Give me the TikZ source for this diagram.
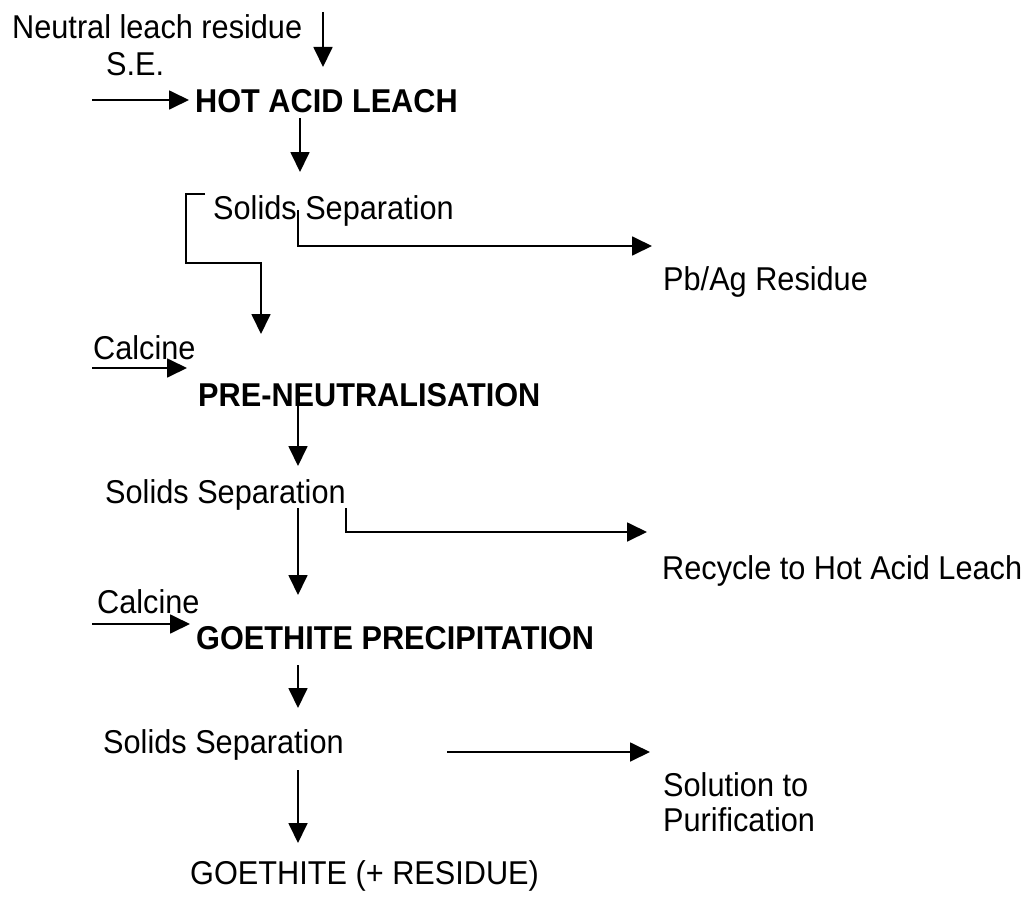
\documentclass[tikz,border=0pt]{standalone}
\usepackage{fontspec}
\setmainfont{Liberation Sans}[FakeStretch=0.93]
\usetikzlibrary{arrows.meta}
\begin{document}
\begin{tikzpicture}[x=1pt,y=-1pt,
  lbl/.style={anchor=base west,inner sep=0pt,font=\fontsize{33}{36}\selectfont},
  blbl/.style={lbl,font=\fontsize{33}{36}\selectfont\bfseries},
  flow/.style={line width=1.8pt,-{Triangle[length=20pt,width=19pt]}}]
\useasboundingbox (0,0) rectangle (1031,899);
% labels
\node[lbl]  (nlr)  at (12,39)   {Neutral leach residue};
\node[lbl]  (se)   at (106,75)  {S.E.};
\node[blbl] (hal)  at (195,112) {HOT ACID LEACH};
\node[lbl]  (ss1)  at (213,219) {Solids Separation};
\node[lbl]  (pbag) at (663,290) {Pb/Ag Residue};
\node[lbl]  (calc1) at (93,359) {Calcine};
\node[blbl] (pren) at (198,406) {PRE-NEUTRALISATION};
\node[lbl]  (ss2)  at (105,503) {Solids Separation};
\node[lbl]  (rec)  at (662,579) {Recycle to Hot Acid Leach};
\node[lbl]  (calc2) at (97,613) {Calcine};
\node[blbl] (goe)  at (196,649) {GOETHITE PRECIPITATION};
\node[lbl]  (ss3)  at (103,753) {Solids Separation};
\node[lbl]  (sol)  at (663,796) {Solution to};
\node[lbl]  (pur)  at (663,831) {Purification};
\node[lbl]  (gres) at (190,884) {GOETHITE (+ RESIDUE)};
% connector end points
\coordinate (nlrA) at (323,12);  \coordinate (nlrB) at (323,67);
\coordinate (seA) at (92,100);   \coordinate (seB) at (189,100);
\coordinate (halA) at (300,118); \coordinate (halB) at (300,172);
\coordinate (brA) at (205,194);  \coordinate (brB) at (186,194);
\coordinate (brC) at (186,263);  \coordinate (brD) at (261,263);
\coordinate (brE) at (261,334);
\coordinate (pbA) at (298,210);  \coordinate (pbB) at (298,246);
\coordinate (pbC) at (652,246);
\coordinate (c1A) at (92,368);   \coordinate (c1B) at (187,368);
\coordinate (prA) at (298,396);  \coordinate (prB) at (298,466);
\coordinate (s2A) at (298,508);  \coordinate (s2B) at (298,595);
\coordinate (rcA) at (346,508);  \coordinate (rcB) at (346,532);
\coordinate (rcC) at (647,532);
\coordinate (c2A) at (92,624);   \coordinate (c2B) at (190,624);
\coordinate (goA) at (298,665);  \coordinate (goB) at (298,708);
\coordinate (soA) at (447,752);  \coordinate (soB) at (650,752);
\coordinate (s3A) at (298,770);  \coordinate (s3B) at (298,843);
% connectors
\draw[flow] (nlrA) -- (nlrB);
\draw[flow] (seA) -- (seB);
\draw[flow] (halA) -- (halB);
\draw[flow] (brA) -- (brB) -- (brC) -- (brD) -- (brE);
\draw[flow] (pbA) -- (pbB) -- (pbC);
\draw[flow] (c1A) -- (c1B);
\draw[flow] (prA) -- (prB);
\draw[flow] (s2A) -- (s2B);
\draw[flow] (rcA) -- (rcB) -- (rcC);
\draw[flow] (c2A) -- (c2B);
\draw[flow] (goA) -- (goB);
\draw[flow] (soA) -- (soB);
\draw[flow] (s3A) -- (s3B);
\end{tikzpicture}
\end{document}
